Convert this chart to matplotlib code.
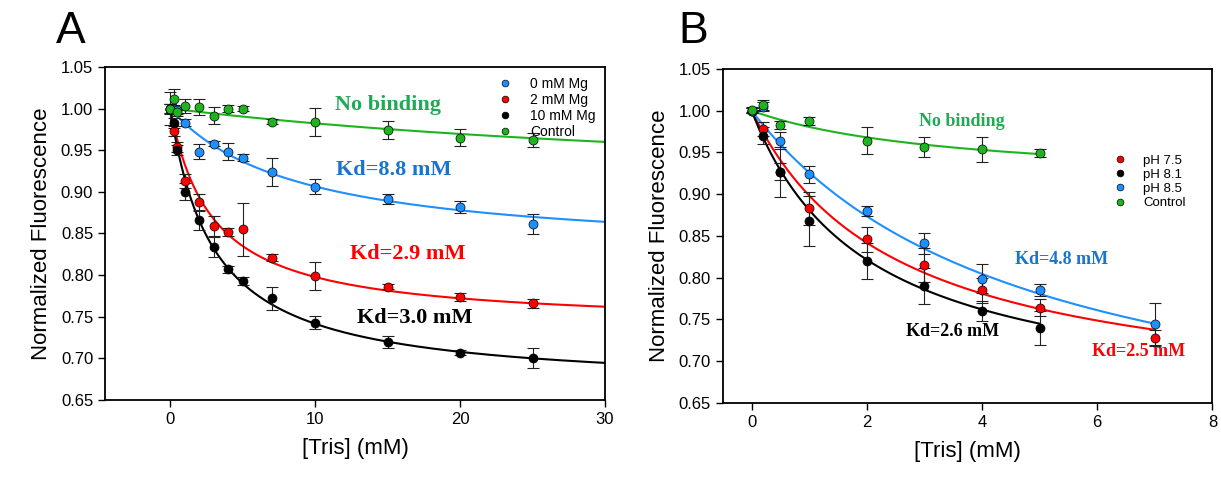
import numpy as np
import matplotlib
matplotlib.use("Agg")
import matplotlib.pyplot as plt

# ---- panel A data: Mg series ----
x_a = [0, 0.25, 0.5, 1, 2, 3, 4, 5, 7, 10, 15, 20, 25]
mg0 = [1.0, 1.0, 0.998, 0.983, 0.948, 0.9575, 0.948, 0.941, 0.9235, 0.906, 0.891, 0.882, 0.861]
mg0_err = [0.005, 0.004, 0.004, 0.004, 0.009, 0.003, 0.01, 0.004, 0.017, 0.009, 0.006, 0.007, 0.012]
mg2 = [1.0, 0.973, 0.954, 0.913, 0.8875, 0.859, 0.852, 0.855, 0.821, 0.799, 0.786, 0.774, 0.766]
mg2_err = [0.005, 0.006, 0.006, 0.008, 0.01, 0.012, 0.005, 0.032, 0.004, 0.017, 0.003, 0.005, 0.005]
mg10 = [1.0, 0.982, 0.950, 0.900, 0.866, 0.834, 0.807, 0.793, 0.772, 0.743, 0.720, 0.707, 0.700]
mg10_err = [0.006, 0.006, 0.006, 0.01, 0.012, 0.012, 0.004, 0.005, 0.014, 0.008, 0.007, 0.003, 0.012]
ctrl_a = [1.0, 1.011, 0.996, 1.003, 1.002, 0.9915, 1.0, 1.0, 0.984, 0.984, 0.974, 0.965, 0.962]
ctrl_a_err = [0.02, 0.012, 0.005, 0.008, 0.01, 0.01, 0.004, 0.003, 0.003, 0.017, 0.011, 0.01, 0.008]

# fit parameters (Kd, amplitude) for the hyperbolic binding curves
fit_a = {"mg0": (8.8, 0.176), "mg2": (2.9, 0.261), "mg10": (3.0, 0.336), "ctrl": (50.0, 0.107)}

# ---- panel B data: pH series ----
x_b = [0, 0.2, 0.5, 1, 2, 3, 4, 5, 7]
x_b5 = [0, 0.2, 0.5, 1, 2, 3, 4, 5]
ph75 = [1.0, 0.978, 0.927, 0.883, 0.846, 0.815, 0.785, 0.764, 0.728]
ph75_err = [0.003, 0.008, 0.01, 0.02, 0.015, 0.02, 0.015, 0.01, 0.01]
ph81 = [1.0, 0.970, 0.927, 0.868, 0.820, 0.790, 0.760, 0.740]
ph81_err = [0.003, 0.01, 0.03, 0.03, 0.021, 0.022, 0.012, 0.02]
ph85 = [1.0, 1.005, 0.964, 0.924, 0.880, 0.841, 0.799, 0.785, 0.745]
ph85_err = [0.003, 0.005, 0.01, 0.01, 0.006, 0.012, 0.017, 0.007, 0.025]
ctrl_b = [1.001, 1.007, 0.983, 0.988, 0.964, 0.957, 0.954, 0.949]
ctrl_b_err = [0.003, 0.006, 0.005, 0.005, 0.016, 0.012, 0.015, 0.005]

fit_b = {"ph75": (2.5, 0.356), "ph81": (2.0, 0.357), "ph85": (4.8, 0.43), "ctrl": (3.57, 0.089)}

BLUE = "#1e8fff"
RED = "#ff0000"
BLACK = "#000000"
GREEN = "#1fb41f"
TXT_GREEN = "#1faa55"
TXT_BLUE = "#1874cd"


def binding(x, kd, amp):
    return 1 - amp * x / (kd + x)


def series(ax, x, y, err, color, label, fit, xmax):
    xs = np.linspace(0, xmax, 300)
    ax.plot(xs, binding(xs, *fit), color=color, lw=1.5, zorder=2)
    ax.errorbar(x, y, yerr=err, fmt="none", ecolor="#222222", elinewidth=0.8,
                capsize=4, capthick=0.8, zorder=3)
    ax.plot(x, y, "o", color=color, mec="black", mew=0.5, ms=6.5, zorder=4,
            label=label)


def style(ax, xlim, xticks):
    ax.set_xlim(*xlim)
    ax.set_ylim(0.65, 1.05)
    ax.set_xticks(xticks)
    ax.set_yticks(np.arange(0.65, 1.051, 0.05))
    ax.yaxis.set_major_formatter(matplotlib.ticker.FormatStrFormatter("%.2f"))
    ax.tick_params(direction="out", length=5, width=1, labelsize=12,
                   top=False, right=False)
    for s in ax.spines.values():
        s.set_linewidth(1.3)
    ax.set_xlabel("[Tris] (mM)", fontsize=16, labelpad=8)
    ax.set_ylabel("Normalized Fluorescence", fontsize=16, labelpad=6)


plt.rcParams["font.family"] = ["Liberation Sans", "DejaVu Sans"]
fig = plt.figure(figsize=(12.21, 4.8), dpi=100)
axA = fig.add_axes([0.086, 0.1667, 0.4095, 0.694])
axB = fig.add_axes([0.592, 0.1604, 0.401, 0.696])

# panel A
series(axA, x_a, mg0, mg0_err, BLUE, "0 mM Mg", fit_a["mg0"], 30)
series(axA, x_a, mg2, mg2_err, RED, "2 mM Mg", fit_a["mg2"], 30)
series(axA, x_a, mg10, mg10_err, BLACK, "10 mM Mg", fit_a["mg10"], 30)
series(axA, x_a, ctrl_a, ctrl_a_err, GREEN, "Control", fit_a["ctrl"], 30)
style(axA, (-4.5, 30), [0, 10, 20, 30])
axA.legend(loc="upper right", bbox_to_anchor=(1.0, 1.0), frameon=False,
           fontsize=10, markerscale=0.75, handletextpad=0.8,
           labelspacing=0.15, borderaxespad=0.3)

serif = dict(family=["Liberation Serif", "DejaVu Serif"], fontweight="bold",
             ha="center", va="center")
axA.text(15.0, 1.004, "No binding", color=TXT_GREEN, fontsize=16, **serif)
axA.text(15.4, 0.926, "Kd=8.8 mM", color=TXT_BLUE, fontsize=16, **serif)
axA.text(16.4, 0.8254, "Kd=2.9 mM", color=RED, fontsize=16, **serif)
axA.text(16.9, 0.7485, "Kd=3.0 mM", color=BLACK, fontsize=16, **serif)

# panel B
series(axB, x_b, ph75, ph75_err, RED, "pH 7.5", fit_b["ph75"], 7)
series(axB, x_b5, ph81, ph81_err, BLACK, "pH 8.1", fit_b["ph81"], 5)
series(axB, x_b, ph85, ph85_err, BLUE, "pH 8.5", fit_b["ph85"], 7)
series(axB, x_b5, ctrl_b, ctrl_b_err, GREEN, "Control", fit_b["ctrl"], 5)
style(axB, (-0.5, 8), [0, 2, 4, 6, 8])
axB.legend(loc="upper right", bbox_to_anchor=(0.97, 0.78), frameon=False,
           fontsize=9.5, markerscale=0.75, handletextpad=0.8,
           labelspacing=0.15)

axB.text(3.65, 0.9865, "No binding", color=TXT_GREEN, fontsize=13, **serif)
axB.text(5.38, 0.8213, "Kd=4.8 mM", color=TXT_BLUE, fontsize=13, **serif)
axB.text(3.48, 0.7362, "Kd=2.6 mM", color=BLACK, fontsize=13, **serif)
axB.text(6.71, 0.7115, "Kd=2.5 mM", color=RED, fontsize=13, **serif)

# panel letters
narrow = ["Liberation Sans Narrow", "Liberation Sans", "DejaVu Sans"]
fig.text(0.058, 0.935, "A", fontsize=32, family=narrow, ha="center", va="center")
fig.text(0.568, 0.935, "B", fontsize=32, family=narrow, ha="center", va="center")

fig.savefig("out.png", dpi=100)
